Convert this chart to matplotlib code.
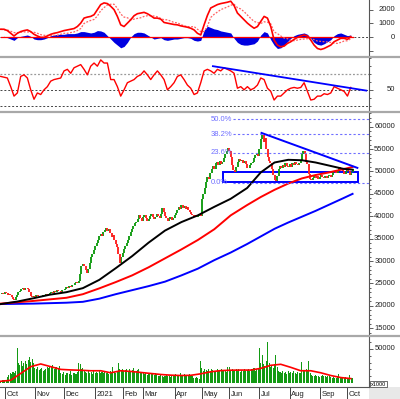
import matplotlib
matplotlib.use("Agg")
import matplotlib.pyplot as plt
from matplotlib.lines import Line2D
from matplotlib.patches import Rectangle
from matplotlib.ticker import MultipleLocator, FixedLocator
import matplotlib.transforms as mtrans
import numpy as np
import pandas as pd

plt.rcParams['font.family'] = ['Liberation Sans', 'DejaVu Sans']

# trading days, 28 Sep 2020 onwards, HOSE holidays removed
first_day = "2020-09-28"
holidays = ["2021-01-01", "2021-02-10", "2021-02-11", "2021-02-12", "2021-02-15",
            "2021-02-16", "2021-04-21", "2021-04-30", "2021-05-03",
            "2021-09-02", "2021-09-03"]
month_names = ["Oct", "Nov", "Dec", "2021", "Feb", "Mar", "Apr", "May",
               "Jun", "Jul", "Aug", "Sep", "Oct"]

# daily close
close = [
    22600, 22900, 22700, 23000, 22800, 22500, 22700, 22400, 22000, 21600,
    21350, 21900, 22400, 23000, 23400, 23700, 23900, 23600, 23900, 24000,
    23700, 23200, 22300, 21900, 22200, 22000, 22400, 22100, 22300, 21900,
    22200, 22500, 22300, 22600, 22400, 22700, 22900, 23100, 22900, 23300,
    23200, 23500, 23300, 23400, 23200, 23600, 23500, 23800, 24100, 24000,
    24400, 24300, 24700, 24600, 25000, 25300, 25200, 25600, 27000, 28800,
    29400, 29000, 28000, 27400, 28300, 29500, 30800, 31600, 32500, 33400,
    34100, 34800, 35500, 36100, 35700, 36400, 36900, 37300, 36800, 37100,
    36200, 35400, 35800, 34600, 33900, 33200, 31500, 29600, 30800, 31800,
    32600, 33400, 34100, 34800, 35600, 36500, 37200, 37900, 38400, 38800,
    39400, 40200, 39600, 39000, 39800, 40300, 39500, 38900, 39400, 40100,
    40600, 39900, 39300, 39800, 40400, 40000, 39600, 40500, 41800, 40900,
    40100, 39500, 39000, 39400, 39800, 39200, 39600, 40200, 40800, 41500,
    42100, 41700, 42400, 41900, 42300, 41600, 42000, 41400, 41000, 40600,
    40200, 39800, 40300, 39900, 40100, 40400, 40000, 43800, 45000, 46300,
    47600, 48800, 48300, 49600, 50500, 51200, 50600, 51800, 52100, 51500,
    52400, 51700, 52000, 53000, 54000, 54600, 55200, 54500, 53200, 51500,
    50300, 49900, 51000, 52200, 52800, 52300, 52600, 51900, 52400, 51600,
    50800, 50700, 51500, 51800, 52200, 52900, 53600, 54000, 53500, 55000,
    57200, 58100, 56500, 57400, 55000, 53200, 52400, 51800, 50500, 49300,
    48200, 47900, 49000, 50500, 51200, 50800, 51500, 51000, 51800, 51300,
    50900, 51600, 51100, 51900, 51400, 52200, 51700, 51400, 51800, 52300,
    54000, 54500, 53800, 52200, 51600, 49500, 48300, 48000, 48600, 49000,
    48500, 48900, 48400, 48800, 49200, 48700, 48500, 49000, 48600, 48900,
    49300, 48800, 49300, 49800, 50200, 49600, 50400, 50900, 50300, 50700,
    50100, 49500, 49900, 50600, 50200, 49200, 49800, 50500,
]

# daily volume (x1000)
volume = [
    3500, 4200, 3800, 4500, 3900, 9000, 12000, 15000, 13000, 16000,
    14000, 18000, 51000, 30000, 27000, 32000, 25000, 29000, 33000, 28000,
    34000, 38000, 31000, 36000, 30000, 22000, 20000, 23000, 19000, 21000,
    22000, 18000, 19000, 20000, 24000, 22000, 25000, 23000, 26000, 21000,
    24000, 23000, 22000, 25000, 14000, 13000, 16000, 12000, 15000, 14000,
    13000, 17000, 12000, 14000, 15000, 13000, 16000, 30000, 28000, 20000,
    22000, 18000, 16000, 14000, 17000, 15000, 16000, 13000, 18000, 15000,
    16000, 14000, 17000, 15000, 16000, 14000, 18000, 15000, 16000, 13000,
    17000, 15000, 24000, 16000, 14000, 18000, 29000, 21000, 19000, 20000,
    17000, 19000, 21000, 18000, 20000, 16000, 19000, 22000, 18000, 17000,
    19000, 20000, 16000, 14000, 15000, 13000, 14000, 12000, 15000, 14000,
    13000, 15000, 12000, 14000, 13000, 11000, 10000, 12000, 11000, 9000,
    11000, 12000, 10000, 11000, 9000, 12000, 10000, 12000, 13000, 11000,
    12000, 14000, 11000, 12000, 13000, 10000, 12000, 11000, 13000, 12000,
    10000, 8000, 7000, 9000, 8000, 6000, 33000, 22000, 18000, 20000,
    19000, 17000, 21000, 18000, 20000, 19000, 16000, 18000, 21000, 17000,
    19000, 20000, 18000, 17000, 19000, 16000, 24000, 23000, 18000, 20000,
    19000, 17000, 21000, 18000, 20000, 16000, 19000, 18000, 20000, 17000,
    19000, 21000, 18000, 20000, 19000, 22000, 17000, 21000, 20000, 51000,
    30000, 41000, 28000, 25000, 33000, 61000, 30000, 24000, 26000, 22000,
    28000, 41000, 24000, 18000, 16000, 14000, 17000, 15000, 16000, 13000,
    17000, 15000, 16000, 14000, 17000, 15000, 13000, 16000, 14000, 15000,
    31000, 19000, 18000, 20000, 17000, 33000, 14000, 12000, 11000, 10000,
    12000, 11000, 10000, 9000, 11000, 12000, 10000, 11000, 9000, 10000,
    11000, 9000, 8000, 9000, 7000, 8000, 10000, 13000, 9000, 8000,
    7000, 8000, 9000, 7000, 8000, 12000, 7000, 8000,
]

# volume average, sampled evenly across the data range
vol_ma = [2500, 4000, 14000, 24000, 28000, 24000, 20000, 19200, 18700, 18000,
          18000, 15000, 18000, 17000, 15500, 14000, 12500, 11500, 11000, 11300,
          13500, 16500, 18200, 18800, 19000, 19000, 21500, 26000, 27500, 23000,
          18000, 18000, 15000, 11000, 8000, 6500]

# moving averages sampled at these trading days
ma_days = [0, 12, 24, 36, 48, 60, 72, 84, 96, 108, 120, 132, 144, 156, 168,
           180, 190, 200, 210, 220, 230, 240, 250, 257]
ma_black = [20400, 20950, 21700, 22500, 23050, 23950, 25800, 28400, 31100, 34100,
            36800, 38700, 40200, 42100, 43900, 46300, 49800, 52000, 52600, 52500,
            52000, 51300, 50600, 50400]
ma_red = [20500, 20800, 21100, 21450, 21800, 22600, 23900, 25300, 26800, 28600,
          30600, 32600, 34700, 37100, 40200, 42500, 44300, 45900, 47300, 48450,
          49200, 49800, 50500, 51000]
ma_blue = [20400, 20450, 20500, 20600, 20700, 20900, 21600, 22600, 23500, 24400,
           25400, 26800, 28300, 30200, 31900, 33800, 35500, 37200, 38600, 39900,
           41200, 42600, 44000, 45000]

# MACD, histogram and RSI sampled evenly across the data range
macd = [
    575, 575, 475, 275, 75, 275, 400, 475, 525, 400,
    200, 75, -25, -25, 75, 200, 275, 325, 400, 475,
    525, 575, 625, 775, 1025, 1400, 1475, 1525, 1650, 2025,
    2400, 2525, 2475, 2275, 2025, 1525, 900, 775, 1025, 1275,
    1575, 1725, 1775, 1825, 1725, 1575, 1400, 1400, 1325, 1075,
    1025, 975, 925, 900, 825, 775, 725, 650, 525, 275,
    150, 900, 1600, 2150, 2275, 2400, 2475, 2525, 2575, 2650,
    2325, 1775, 1525, 1275, 1025, 825, 650, 775, 1150, 1525,
    1400, 775, -225, -600, -725, -675, -475, -350, -175, -25,
    75, 150, 75, -225, -600, -850, -925, -850, -725, -600,
    -350, -225, -100, -100, -175, 25,
]
macd_hist = [
    0, 50, -50, -150, -250, -50, 50, 100, 150, 50,
    -150, -200, -200, -150, -50, 100, 150, 200, 200, 200,
    250, 250, 250, 300, 400, 400, 350, 300, 350, 475,
    450, 350, 100, -150, -400, -600, -800, -700, -400, 0,
    250, 350, 350, 300, 150, 0, -150, -100, -50, -200,
    -250, -200, -150, -150, -100, -50, -50, -100, -250, -300,
    -250, 500, 800, 700, 600, 550, 450, 400, 350, 300,
    -100, -400, -550, -600, -600, -550, -500, -300, 150, 400,
    300, -200, -600, -850, -800, -600, -350, -100, 100, 200,
    250, 300, 200, -100, -400, -550, -600, -500, -350, -200,
    100, 250, 300, 200, 100, 150,
]
rsi = [
    67, 66, 65, 54, 42, 46, 67, 69, 65, 50,
    38, 46, 44, 50, 54, 61, 63, 64, 65, 74,
    76, 71, 78, 80, 82, 76, 69, 80, 84, 80,
    88, 84, 84, 63, 63, 54, 42, 50, 59, 61,
    63, 67, 69, 74, 69, 63, 69, 74, 69, 63,
    50, 54, 59, 67, 69, 63, 56, 52, 44, 46,
    59, 74, 76, 74, 71, 76, 74, 78, 76, 74,
    71, 52, 54, 50, 54, 50, 52, 56, 65, 63,
    52, 48, 37, 42, 42, 46, 50, 52, 53, 52,
    53, 59, 48, 37, 38, 42, 42, 45, 44, 46,
    54, 52, 50, 48, 42, 53,
]

# drawings on the chart
fib_low, fib_high = 47500, 75900
fib_ratios = [0.0, 0.236, 0.382, 0.5]
box_days = (162.5, 261.0)
box_prices = (47600, 49800)
tri_days = [190.5, 260.5]
tri_prices = [58600, 50800]
rsi_trend_days = [155, 267]
rsi_trend_vals = [80, 49]

# ---- derived ----
close = np.array(close, dtype=float)
n = len(close)
x = np.arange(n)
days = pd.bdate_range(first_day, periods=320)
days = days[~days.isin(pd.to_datetime(holidays))][:n]
month_start = [i for i in range(1, n) if days[i].month != days[i - 1].month]
ind_x = np.linspace(0, n - 2.3, len(rsi))
vol_x = np.linspace(0, n - 2.3, len(vol_ma))
signal = np.array(macd) - np.array(macd_hist)

W, H = 400, 399
XR = 369  # right edge of plotting area, px
fig = plt.figure(figsize=(W / 100, H / 100), dpi=100)


def panel(top, bottom):
    ax = fig.add_axes([0, 1 - bottom / H, XR / W, (bottom - top) / H])
    for s in ['left', 'top', 'bottom']:
        ax.spines[s].set_visible(False)
    ax.spines['right'].set_color('#555555')
    ax.spines['right'].set_linewidth(0.8)
    ax.yaxis.tick_right()
    ax.tick_params(axis='y', which='both', direction='out', color='#444444',
                   labelright=False, width=0.6)
    ax.tick_params(axis='y', which='major', length=3)
    ax.tick_params(axis='y', which='minor', length=1.5)
    ax.set_xticks([])
    ax.set_xlim(-0.5, 269)
    return ax


def right_labels(ax, values, fmt="{:d}"):
    tr = mtrans.blended_transform_factory(ax.transAxes, ax.transData)
    for v in values:
        ax.text(395 / XR, v, fmt.format(v), transform=tr, ha='right', va='center',
                fontsize=5.5, color='#222222', clip_on=False)


# MACD
ax_m = panel(0, 56.5)
ax_m.set_ylim(-1444, 2740)
ax_m.yaxis.set_major_locator(FixedLocator([-1000, 0, 1000, 2000]))
ax_m.fill_between(ind_x, 0, macd_hist, color='#0000e0', lw=0)
ax_m.axhline(0, color='#444444', ls=(0, (2, 2)), lw=0.7)
ax_m.plot([0, n - 1], [0, 0], color='#ff0000', lw=0.9)
ax_m.plot(ind_x, signal, color='#ff6060', ls=(0, (1.5, 1.2)), lw=0.9)
ax_m.plot(ind_x, macd, color='#ff0000', lw=1.2)
right_labels(ax_m, [0, 1000, 2000])

# RSI
ax_r = panel(56.5, 112)
ax_r.set_ylim(21.8, 92.3)
ax_r.yaxis.set_major_locator(FixedLocator([50]))
ax_r.yaxis.set_minor_locator(MultipleLocator(10))
ax_r.axhline(70, color='#999999', ls=(0, (1.5, 1.5)), lw=0.9)
ax_r.axhline(50, color='#444444', ls=(0, (2, 2)), lw=0.7)
ax_r.axhline(30, color='#444444', ls=(0, (2, 2)), lw=0.7)
ax_r.plot(ind_x, rsi, color='#ff0000', lw=1.0)
ax_r.plot(rsi_trend_days, rsi_trend_vals, color='#0000ff', lw=1.3)
right_labels(ax_r, [50])

# price
ax_p = panel(112, 336)
ax_p.set_ylim(13270, 63270)
ax_p.yaxis.set_major_locator(MultipleLocator(5000))
ax_p.yaxis.set_minor_locator(MultipleLocator(1000))
prev = np.r_[close[0], close[:-1]]
up = close >= prev
ax_p.vlines(x[up], prev[up], close[up], color='#109a10', lw=1.35)
ax_p.vlines(x[~up], close[~up], prev[~up], color='#ff2020', lw=1.35)
ax_p.plot(ma_days, ma_blue, color='#0000ff', lw=1.4)
ax_p.plot(ma_days, ma_red, color='#ff0000', lw=1.4)
ax_p.plot(ma_days, ma_black, color='#000000', lw=1.4)
for r in fib_ratios:
    lvl = fib_low + r * (fib_high - fib_low)
    ax_p.hlines(lvl, 170, 269, color='#6f6fff', ls=(0, (2, 2)), lw=0.8)
    ax_p.text(153.5, lvl, f"{r * 100:.1f}%", color='#6f6fff', fontsize=5.5,
              ha='left', va='center')
ax_p.add_patch(Rectangle((box_days[0], box_prices[0]), box_days[1] - box_days[0],
                         box_prices[1] - box_prices[0], fill=False,
                         ec='#0000ff', lw=1.4))
ax_p.plot(tri_days, tri_prices, color='#0000ff', lw=1.4)
right_labels(ax_p, list(range(15000, 60001, 5000)))

# volume
ax_v = panel(336, 387)
ax_v.set_ylim(-5900, 69100)
ax_v.yaxis.set_major_locator(FixedLocator([50000]))
ax_v.yaxis.set_minor_locator(MultipleLocator(10000))
ax_v.bar(x, volume, width=0.75, color='#139a13', lw=0)
ax_v.plot(vol_x, vol_ma, color='#ff0000', lw=1.2)
right_labels(ax_v, [50000])
ax_v.spines['bottom'].set_visible(True)
ax_v.spines['bottom'].set_color('#555555')
ax_v.set_xticks(month_start)
ax_v.set_xticklabels([])
ax_v.tick_params(axis='x', direction='out', length=9, width=0.7, color='#444444')
trx = mtrans.blended_transform_factory(ax_v.transData, ax_v.transAxes)
for i, name in zip(month_start, month_names):
    ax_v.text(i + 1.3, -7.5 / 51, name, transform=trx, ha='left', va='center',
              fontsize=5.5, color='#222222', clip_on=False)

# frame pieces
fig.add_artist(Rectangle((XR / W, 0), 1 - XR / W, 12 / H, transform=fig.transFigure,
                         color='#e8e8e8', lw=0, zorder=0))
for yy in [56.5, 112, 336]:
    fig.add_artist(Line2D([0, 1], [1 - yy / H] * 2, color='#a8a8a8', lw=1.6))
fig.text(371 / W, 1 - 384 / H, "x1000", fontsize=4, va='center', ha='left',
         bbox=dict(boxstyle='square,pad=0.15', fc='white', ec='#333333', lw=0.5))

fig.savefig("out.png", dpi=100)
